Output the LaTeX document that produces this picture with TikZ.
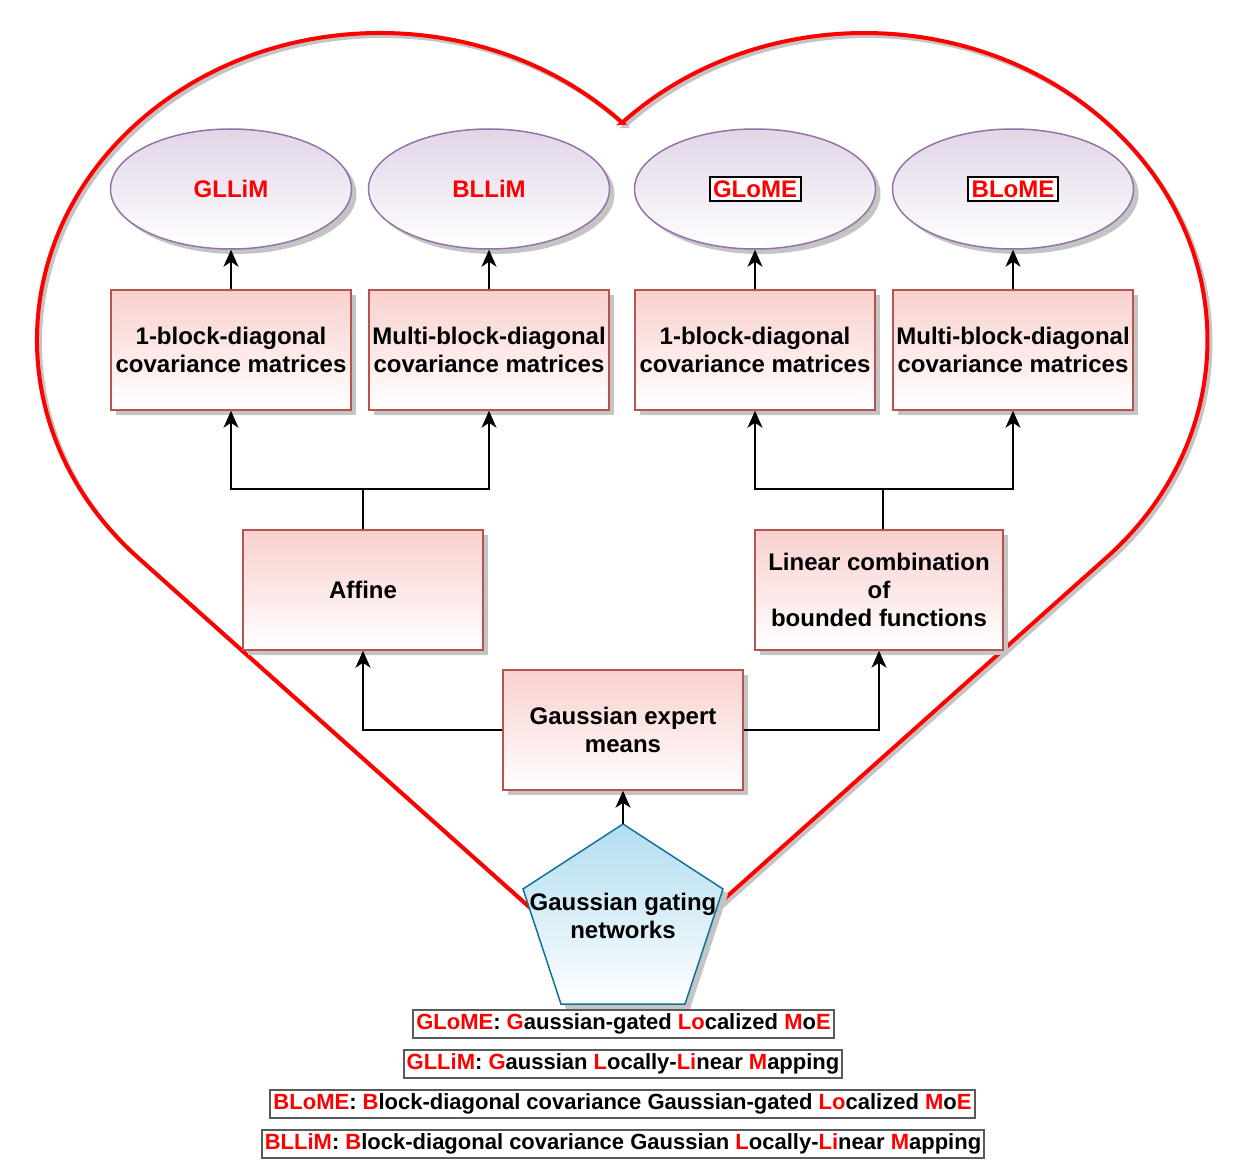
\documentclass[tikz,border=0pt]{standalone}
\usepackage{fontspec}
\setmainfont{Liberation Sans}
\usetikzlibrary{arrows.meta,shadows,shapes.geometric}
\definecolor{boxfill}{HTML}{F8CECC}
\definecolor{boxline}{HTML}{B85450}
\definecolor{elfill}{HTML}{E1D5E7}
\definecolor{elline}{HTML}{9673A6}
\definecolor{pentfill}{HTML}{B1DDF0}
\definecolor{pentline}{HTML}{10739E}
\definecolor{shgray}{HTML}{C4C4C4}
\definecolor{hred}{HTML}{FF0000}
\definecolor{leggray}{HTML}{5A5A5A}
\newcommand\rd[1]{\textcolor{hred}{#1}}
\newcommand\boxedacr[1]{{\setlength{\fboxrule}{2pt}\setlength{\fboxsep}{2.5pt}\fcolorbox{black}{white}{\rd{#1}}}}
\begin{document}
\begin{tikzpicture}[x=1pt,y=1pt,
  lbl/.style={font=\fontsize{24}{28}\selectfont\bfseries, align=center},
  sh/.style={general shadow={shadow xshift=5pt, shadow yshift=-5pt, fill=shgray}},
  ell/.style={ellipse, draw=elline, line width=1.5pt, top color=elfill, bottom color=white,
    minimum width=241pt, minimum height=120pt, inner sep=0pt, sh, lbl, text=hred},
  sbox/.style={rectangle, draw=boxline, line width=1.5pt, top color=boxfill!95, bottom color=white,
    minimum width=240pt, minimum height=120pt, inner sep=0pt, sh, lbl},
  arr/.style={line width=1.8pt, -{Stealth[length=17pt,width=15pt,inset=5pt]}},
  conn/.style={line width=1.8pt},
  leg/.style={draw=leggray, line width=2pt, fill=white, font=\fontsize{22}{26}\selectfont\bfseries,
    inner xsep=3pt, inner ysep=0pt, minimum height=28pt, text height=16pt, text depth=4.5pt},
  heart/.style={line width=4pt, line join=miter}
]
\useasboundingbox (0,0) rectangle (1250,-1169);

% heart (shadow then red outline)
\begin{scope}[shift={(3,-3)}]
\draw[heart, shgray] (622.5,-122.9) arc[start angle=45, end angle=225, x radius=343pt, y radius=307pt]
  -- (622.25,-990) -- (1107,-557.1) arc[start angle=-45, end angle=135, x radius=343pt, y radius=307pt] -- cycle;
\end{scope}
\draw[heart, hred] (622.5,-122.9) arc[start angle=45, end angle=225, x radius=343pt, y radius=307pt]
  -- (622.25,-990) -- (1107,-557.1) arc[start angle=-45, end angle=135, x radius=343pt, y radius=307pt] -- cycle;

% ellipses
\node[ell] (e1) at (231,-189) {GLLiM};
\node[ell] (e2) at (489,-189) {BLLiM};
\node[ell] (e3) at (755,-189) {\boxedacr{GLoME}};
\node[ell] (e4) at (1013,-189) {\boxedacr{BLoME}};

% covariance boxes
\node[sbox] (b1) at (231,-350) {1-block-diagonal\\covariance matrices};
\node[sbox] (b2) at (489,-350) {Multi-block-diagonal\\covariance matrices};
\node[sbox] (b3) at (755,-350) {1-block-diagonal\\covariance matrices};
\node[sbox] (b4) at (1013,-350) {Multi-block-diagonal\\covariance matrices};

% middle boxes
\node[sbox] (aff) at (363,-590) {Affine};
\node[sbox, minimum width=248pt] (lin) at (879,-590) {Linear combination\\of\\bounded functions};
\node[sbox] (gem) at (623,-730) {Gaussian expert\\means};

% pentagon
\coordinate (gtop) at (623,-824);
\coordinate (pur) at (723,-889);
\coordinate (pbr) at (685,-1004);
\coordinate (pbl) at (561,-1004);
\coordinate (pul) at (523,-889);
\fill[shgray, shift={(5,-5)}] (623,-824) -- (723,-889) -- (685,-1004) -- (561,-1004) -- (523,-889) -- cycle;
\draw[pentline, line width=1.5pt, top color=pentfill, bottom color=white]
  (gtop) -- (pur) -- (pbr) -- (pbl) -- (pul) -- cycle;
\node[lbl] (gate) at (623,-916) {Gaussian gating\\networks};

% connectors
\draw[arr] (b1.north) -- (e1.south);
\draw[arr] (b2.north) -- (e2.south);
\draw[arr] (b3.north) -- (e3.south);
\draw[arr] (b4.north) -- (e4.south);
\draw[conn] (aff.north) -- ++(0,40) coordinate (affj);
\draw[arr] (affj) -| (b1.south);
\draw[arr] (affj) -| (b2.south);
\draw[conn] ([xshift=4pt]lin.north) -- ++(0,40) coordinate (linj);
\draw[arr] (linj) -| (b3.south);
\draw[arr] (linj) -| (b4.south);
\draw[arr] (gem.west) -| (aff.south);
\draw[arr] (gem.east) -| (lin.south);
\draw[arr] (gtop) -- (gem.south);

% legend
\node[leg] (l1) at (623.5,-1024) {\rd{GLoME}: \rd{G}aussian-gated \rd{Lo}calized \rd{M}o\rd{E}};
\node[leg] (l2) at (623,-1064) {\rd{GLLiM}: \rd{G}aussian \rd{L}ocally-\rd{Li}near \rd{M}apping};
\node[leg] (l3) at (622.5,-1104) {\rd{BLoME}: \rd{B}lock-diagonal covariance Gaussian-gated \rd{Lo}calized \rd{M}o\rd{E}};
\node[leg] (l4) at (623,-1144) {\rd{BLLiM}: \rd{B}lock-diagonal covariance Gaussian \rd{L}ocally-\rd{Li}near \rd{M}apping};
\end{tikzpicture}
\end{document}
